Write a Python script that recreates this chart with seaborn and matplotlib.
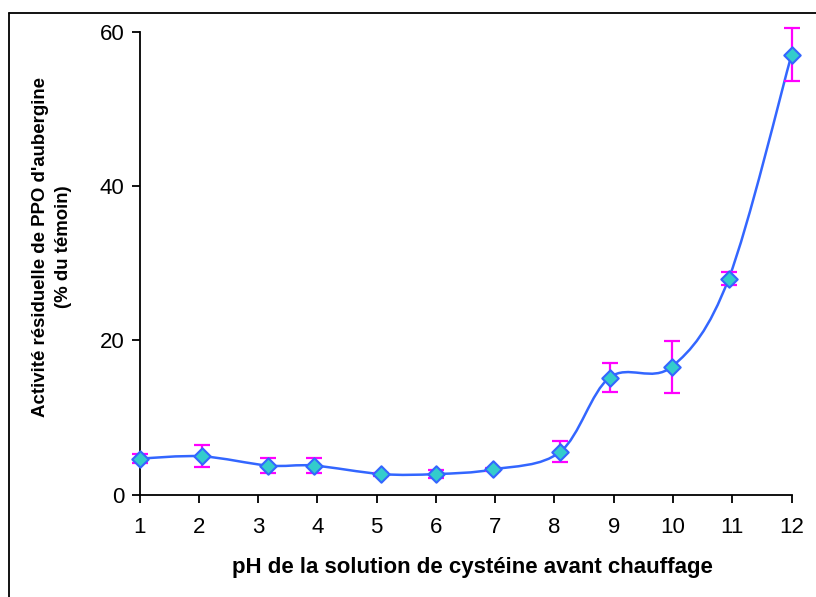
import numpy as np
import pandas as pd
import seaborn as sns
import matplotlib.pyplot as plt
from matplotlib.path import Path
from matplotlib.patches import PathPatch
from matplotlib.lines import Line2D

# ---------------- DATA ----------------
ph = [1.0, 2.05, 3.17, 3.94, 5.08, 6.0, 6.97, 8.1, 8.93, 9.98, 10.94, 12.0]
activite = [4.7, 5.0, 3.8, 3.8, 2.7, 2.7, 3.3, 5.6, 15.2, 16.6, 28.0, 57.0]
erreur = [0.6, 1.4, 1.0, 0.95, 0.2, 0.55, 0.2, 1.4, 1.9, 3.35, 0.85, 3.45]
xticks = list(range(1, 13))
yticks = [0, 20, 40, 60]

df = pd.DataFrame({"ph": ph, "activite": activite, "erreur": erreur})

# ---------------- STYLE ----------------
sns.set_style("ticks")
plt.rcParams["font.family"] = ["Liberation Sans", "DejaVu Sans"]
plt.rcParams["text.color"] = "black"
plt.rcParams["axes.labelcolor"] = "black"
plt.rcParams["xtick.color"] = "black"
plt.rcParams["ytick.color"] = "black"

fig = plt.figure(figsize=(8.16, 5.97), dpi=100)
ax = fig.add_axes([0.171, 0.171, 0.799, 0.776])

# smoothed line (Excel-like bezier through the points)
x = np.array(ph)
y = np.array(activite)
verts = [(x[0], y[0])]
codes = [Path.MOVETO]
n = len(x)
for i in range(n - 1):
    p0 = np.array([x[max(i - 1, 0)], y[max(i - 1, 0)]])
    p1 = np.array([x[i], y[i]])
    p2 = np.array([x[i + 1], y[i + 1]])
    p3 = np.array([x[min(i + 2, n - 1)], y[min(i + 2, n - 1)]])
    c1 = p1 + (p2 - p0) / 6
    c2 = p2 - (p3 - p1) / 6
    verts += [tuple(c1), tuple(c2), tuple(p2)]
    codes += [Path.CURVE4] * 3
ax.add_patch(PathPatch(Path(verts, codes), facecolor="none",
                       edgecolor="#3366FF", linewidth=1.8, zorder=2, clip_on=False))

eb = ax.errorbar(df["ph"], df["activite"], yerr=df["erreur"], fmt="none",
                 ecolor="#FF00FF", elinewidth=1.6, capsize=6, capthick=1.6, zorder=3)
for art in eb.lines[1] + eb.lines[2]:
    art.set_clip_on(False)

sns.scatterplot(data=df, x="ph", y="activite", marker="D", s=70,
                color="#33CCCC", edgecolor="#3366FF", linewidth=1.5,
                zorder=4, ax=ax, legend=False, clip_on=False)

ax.set_xlim(1, 12)
ax.set_ylim(0, 60)
ax.set_xticks(xticks)
ax.set_yticks(yticks)
ax.tick_params(axis="both", labelsize=16, length=6, width=1.3, color="black")
ax.tick_params(axis="x", pad=10)
ax.tick_params(axis="y", pad=5)
for s in ["left", "bottom"]:
    ax.spines[s].set_linewidth(1.3)
    ax.spines[s].set_color("black")
sns.despine(ax=ax)

ax.set_xlabel("pH de la solution de cystéine avant chauffage",
              fontsize=16, fontweight="bold")
ax.set_ylabel("Activité résiduelle de PPO d'aubergine\n(% du témoin)",
              fontsize=13.4, fontweight="bold", linespacing=1.45)
ax.xaxis.set_label_coords(0.511, -0.133)
ax.yaxis.set_label_coords(-0.104, 0.535)

# outer frame (left and top edges)
fig.add_artist(Line2D([9 / 816, 9 / 816], [0, 1 - 12.5 / 597], color="black", lw=1.3))
fig.add_artist(Line2D([9 / 816, 1], [1 - 12.5 / 597, 1 - 12.5 / 597], color="black", lw=1.3))

plt.savefig("out.png", dpi=100)
